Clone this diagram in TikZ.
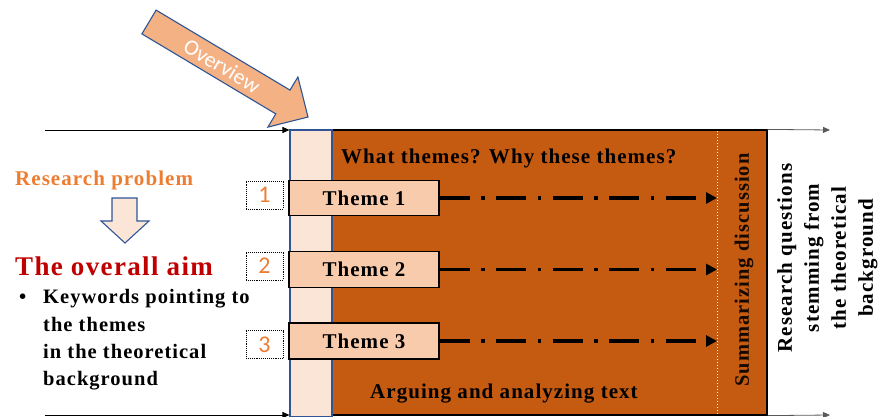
\documentclass[tikz,border=0pt]{standalone}
\usepackage{fontspec}
\setmainfont{Liberation Serif}[LetterSpace=5]
\newfontfamily\calfont{Carlito}
\usetikzlibrary{arrows.meta}
\definecolor{cBrown}{HTML}{C55A11}
\definecolor{cCol}{HTML}{FBE5D6}
\definecolor{cTheme}{HTML}{F8CBAD}
\definecolor{cOver}{HTML}{F4B183}
\definecolor{cBlue}{HTML}{2F5597}
\definecolor{cOrange}{HTML}{ED7D31}
\definecolor{cRed}{HTML}{C00000}
\definecolor{cGray}{HTML}{595959}
\begin{document}
\begin{tikzpicture}[x=1pt,y=-1pt,
  themebox/.style={draw=black, line width=1.2pt, fill=cTheme, minimum width=150pt, minimum height=35pt, inner sep=0pt, font=\fontsize{21}{25}\selectfont\bfseries},
  numbox/.style={draw=black, densely dotted, line width=0.9pt, minimum width=37pt, minimum height=28pt, inner sep=0pt, text=cOrange, font=\calfont\fontsize{24}{28}\selectfont},
  dashline/.style={line width=3.3pt, dash pattern=on 30pt off 11.5pt on 3.5pt off 11.5pt, -{Triangle[length=11pt,width=11pt]}},
  hline/.style={line width=0.8pt, -{Triangle[length=7pt,width=6pt]}},
  blockarrow/.style={draw=cBlue, line width=1.1pt, fill=cCol, line join=miter},
  btext/.style={inner sep=0pt, font=\fontsize{21}{25}\selectfont\bfseries},
  ltext/.style={inner sep=0pt, anchor=base west, font=\fontsize{20.5}{24}\selectfont\bfseries}
]
\useasboundingbox (0,0) rectangle (880,417);
% main brown box and light column
\node[draw=black, line width=1.2pt, fill=cBrown, minimum width=435pt, minimum height=285pt, inner sep=0pt] (main) at (549.5,272.5) {};
\node[draw=cBlue, line width=1.1pt, fill=cCol, minimum width=42pt, minimum height=287pt, inner sep=0pt] (col) at (311,273.5) {};
% dotted separator
\coordinate (sumL) at (717,131);
\draw[white, dotted, line width=1pt] (sumL) -- (sumL |- main.south);
% horizontal arrows
\coordinate (tl) at (45,130);
\coordinate (bl) at (45,415);
\coordinate (tr) at (830,130);
\coordinate (br) at (830,415);
\draw[hline, black] (tl) -- (tl -| col.west);
\draw[hline, black] (bl) -- (bl -| col.west);
\draw[hline, cGray] (main.north east) -- (tr);
\draw[hline, cGray] (main.south east) -- (br);
% theme boxes
\node[themebox] (t1) at (364,198) {Theme 1};
\node[themebox, minimum height=36pt] (t2) at (364,269.5) {Theme 2};
\node[themebox, minimum height=36pt] (t3) at (364,341) {Theme 3};
\node[numbox] (n1) at (264.5,195) {1};
\node[numbox] (n2) at (264.5,266) {2};
\node[numbox] (n3) at (264.5,344.5) {3};
\draw[dashline] (t1.east) -- (t1.east -| sumL);
\draw[dashline] (t2.east) -- (t2.east -| sumL);
\draw[dashline] (t3.east) -- (t3.east -| sumL);
% texts in the box
\node[btext, anchor=base west] (q) at (341,163) {What themes? Why these themes?};
\node[btext, anchor=base west] (arg) at (370,398) {Arguing and analyzing text};
\node[inner sep=0pt, rotate=90, font=\fontsize{20.5}{25}\selectfont\bfseries, text=black!90!cBrown] (sum) at (744,270) {Summarizing discussion};
\node[inner sep=0pt, rotate=90, align=center, font=\fontsize{21}{27}\selectfont\bfseries] (rq) at (827.5,258) {Research questions\\stemming from\\the theoretical\\background};
% left side
\node[ltext, text=cOrange, font=\fontsize{21}{24}\selectfont\bfseries] (rp) at (15,185) {Research problem};
\draw[blockarrow] (112,198) -- (137,198) -- (137,221) -- (149,221) -- (125,243) -- (101,221) -- (112,221) -- cycle;
\node[inner sep=0pt, anchor=base west, text=cRed, font=\fontsize{27}{30}\selectfont\bfseries] (aim) at (15,275) {The overall aim};
\node[ltext] (bul) at (19,303) {\textbullet};
\node[ltext] (k1) at (43,303) {Keywords pointing to};
\node[ltext] (k2) at (43,331) {the themes};
\node[ltext] (k3) at (43,358) {in the theoretical};
\node[ltext] (k4) at (43,385) {background};
% overview arrow
\draw[draw=cBlue, line width=1.1pt, fill=cOver, line join=miter] (156.1,10.1) -- (290.0,90.1) -- (297.9,77.0) -- (308,117) -- (267.9,127.1) -- (275.8,113.9) -- (141.9,33.9) -- cycle;
\node[rotate=-30.86, text=white, inner sep=0pt, font=\calfont\fontsize{22}{26}\selectfont] (ov) at (222,66) {Overview};
\end{tikzpicture}
\end{document}
